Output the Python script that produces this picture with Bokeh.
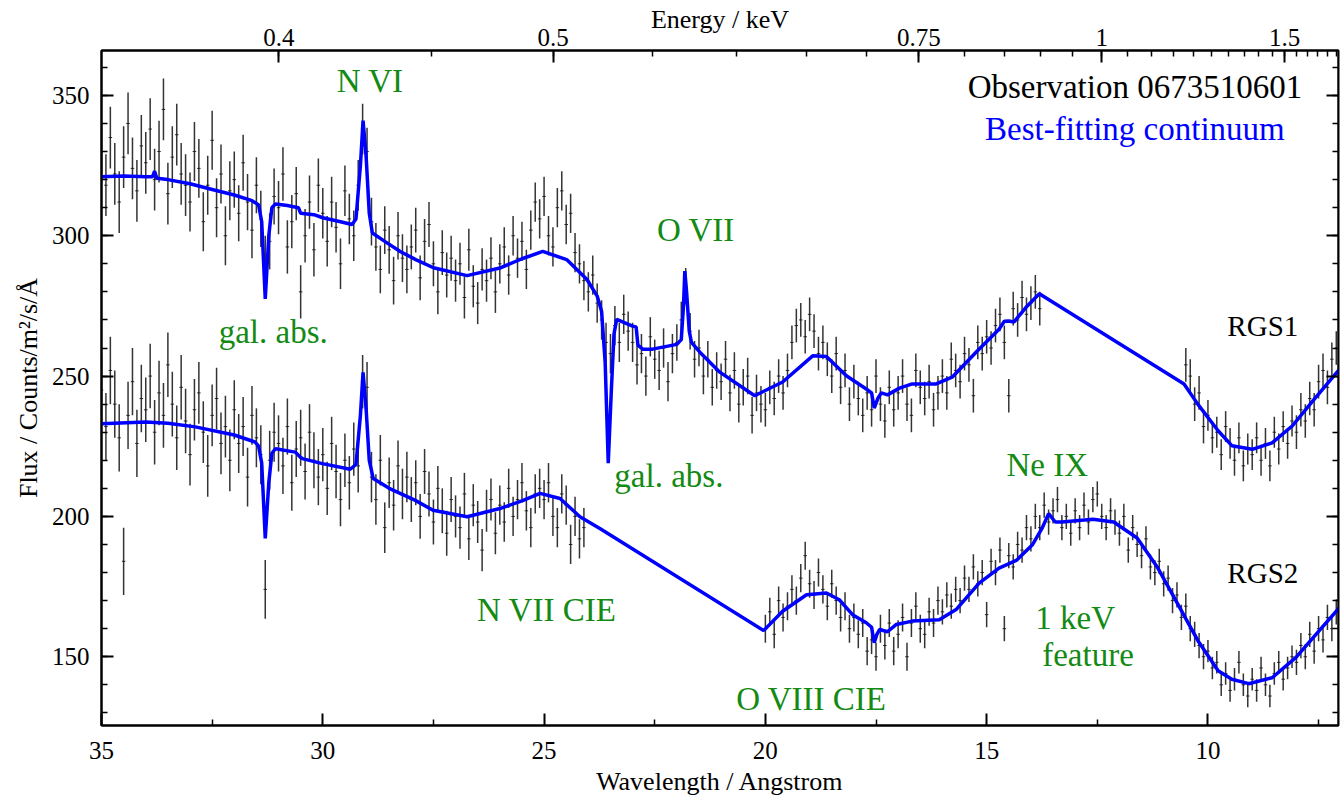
import numpy as np
from bokeh.plotting import figure
from bokeh.models import (Range1d, LinearAxis, FixedTicker, ColumnDataSource, Label,
                          CustomLabelingPolicy)
from bokeh.embed import file_html
from bokeh.resources import INLINE

FONT = "Liberation Serif"
GREEN = "#138a13"
HC = 12.398  # keV * Angstrom

# ---------------- data: RGS1 (flux per 0.1 A bin) ----------------
rgs1_a_start = 35.0   # 35.0 -> 13.8
rgs1_a_flux = [
    330, 318, 335, 322, 312, 328, 340, 324, 316, 332,
    326, 338, 320, 330, 345, 315, 328, 336, 322, 318,
    312, 330, 324, 305, 318, 334, 310, 322, 300, 316,
    320, 308, 326, 312, 302, 318, 306, 290, 298, 314,
    310, 322, 296, 305, 315, 280, 300, 312, 295, 318,
    308, 298, 312, 303, 290, 316, 306, 300, 318, 338,
    330, 305, 296, 288, 302, 295, 284, 300, 292, 288,
    296, 302, 285, 298, 304, 290, 280, 294, 286, 292,
    284, 290, 278, 295, 282, 276, 288, 284, 292, 280,
    290, 296, 286, 300, 292, 298, 288, 302, 312, 306,
    314, 300, 296, 310, 316, 304, 308, 294, 290, 284,
    280, 286, 276, 270, 262, 258, 268, 262, 272, 266,
    262, 254, 258, 250, 264, 256, 252, 260, 248, 258,
    262, 270, 282, 266, 256, 260, 250, 256, 246, 252,
    248, 256, 244, 252, 240, 246, 250, 236, 244, 240,
    238, 246, 242, 250, 244, 252, 262, 268, 270, 264,
    272, 266, 258, 262, 256, 250, 258, 246, 252, 240,
    248, 242, 236, 244, 238, 250, 240, 234, 246, 238,
    244, 250, 240, 236, 252, 246, 242, 248, 238, 244,
    250, 244, 256, 252, 248, 258, 254, 243, 262, 258,
    264, 260, 268, 272, 262, 243, 274, 270, 278, 272,
    276, 280, 274,
]
rgs1_a_err = [11, 11, 10.5, 10, 9.5, 9, 8.5, 8, 7.5, 7, 7, 7, 7, 6.5, 6.5, 6, 6, 6, 6, 6, 6, 6]
rgs1_a_groups = [10] * 21 + [3]

rgs1_b_start = 10.5   # 10.5 -> 7.1
rgs1_b_flux = [
    254, 250, 240, 244, 232,
    236, 228, 230, 222, 232, 226, 220, 228, 218, 224,
    222, 228, 220, 226, 218, 230, 224, 232, 226, 234,
    230, 238, 234, 242, 238, 248, 252, 246, 256, 260,
]
rgs1_b_err = [6, 5.5, 5.5, 6]
rgs1_b_groups = [5, 10, 10, 10]

# ---------------- data: RGS2 ----------------
rgs2_a_start = 35.0   # 35.0 -> 24.1
rgs2_a_flux = [
    245, 232, 252, 240, 228, 184, 236, 248, 226, 242,
    238, 250, 230, 244, 236, 254, 240, 228, 246, 234,
    222, 238, 244, 230, 218, 236, 242, 226, 232, 220,
    238, 226, 232, 214, 236, 228, 222, 174, 220, 230,
    226, 218, 232, 212, 224, 228, 216, 230, 220, 214,
    222, 210, 226, 216, 206, 220, 212, 224, 218, 248,
    246, 214, 206, 220, 196, 212, 204, 218, 208, 214,
    206, 212, 200, 216, 208, 198, 210, 202, 194, 206,
    200, 196, 208, 192, 204, 198, 188, 202, 206, 194,
    204, 198, 210, 200, 206, 212, 202, 196, 208, 210,
    206, 212, 200, 196, 208, 204, 190, 200, 192, 196,
]
rgs2_a_err = [12, 11.5, 11, 10.5, 10, 9.5, 9, 8, 7.5, 7, 7]
rgs2_a_groups = [10] * 11

rgs2_b_start = 20.0   # 20.0 -> 7.1
rgs2_b_flux = [
    160, 166, 158, 170, 164, 168, 174, 170, 178, 186,
    176, 172, 180, 174, 168, 176, 170, 164, 168, 160,
    164, 158, 162, 152, 156, 150, 160, 154, 162, 152,
    158, 164, 150, 162, 168, 160, 158, 166, 162, 170,
    166, 172, 168, 174, 170, 178, 174, 182, 176, 180,
    165, 184, 180, 188, 160, 186, 182, 190, 188, 196,
    192, 200, 196, 204, 198, 202, 206, 196, 200, 194,
    202, 196, 204, 198, 206, 208, 200, 196, 202, 198,
    194, 200, 188, 196, 190, 186, 192, 182, 180, 184,
    176, 178, 170, 172, 164, 168, 160, 158, 154, 150,
    152, 146, 148, 140, 144, 138, 142, 148, 140, 136,
    142, 138, 146, 140, 136, 144, 148, 142, 146, 150,
    148, 154, 150, 158, 152, 160, 156, 164, 160, 166,
]
rgs2_b_err = [5, 5, 5, 5, 4.5, 4.5, 4.5, 4.5, 4.5, 4.5, 4, 4, 4.5]
rgs2_b_groups = [10] * 13

BIN = 0.1

# ---------------- best-fitting continuum models ----------------
m1_lam = [35.0, 34.5, 34.0, 33.85, 33.8, 33.75, 33.5, 33.0, 32.5, 32.0,
          31.6, 31.45, 31.38, 31.3, 31.22, 31.15, 31.07, 30.8, 30.55, 30.5,
          30.2, 30.0, 29.6, 29.34, 29.25, 29.15, 29.09, 29.02, 28.95, 28.88,
          28.6, 28.25, 27.9, 27.5, 26.74, 26.0, 25.5, 25.03, 24.49, 24.03,
          23.8, 23.7, 23.62, 23.55, 23.48, 23.42, 23.36, 23.0, 22.92, 22.88,
          22.77, 22.55, 22.0, 21.9, 21.85, 21.82, 21.78, 21.72, 21.67, 21.48,
          21.03, 20.24, 19.61, 18.93, 18.62, 18.17, 17.72, 17.6, 17.54, 17.46,
          17.38, 17.24, 16.97, 16.68, 16.14, 15.78, 15.24, 14.72, 14.6, 14.5,
          14.38, 14.11, 13.81, 10.54, 10.23, 9.77, 9.46, 9.0, 8.55, 8.09,
          7.63, 7.02]
m1_flux = [321, 321.3, 321, 321, 323, 320.5, 320, 318.5, 316.5, 314.5,
           312.5, 311, 305, 277.5, 300, 310, 311.3, 310.8, 310, 308,
           307.5, 306.4, 305, 304, 306, 325, 341, 328, 308, 301,
           298, 294.4, 291.5, 288.6, 285.8, 288.5, 291.8, 294.4, 291.5, 284.4,
           278.5, 273, 255, 219, 245, 265, 270.2, 267.8, 267.5, 261,
           259.6, 259.6, 261.3, 263, 275, 287.4, 280, 266, 262, 258.5,
           251.4, 243, 247.9, 257.2, 257, 250.1, 245.4, 244, 238.6, 242,
           244, 243.3, 245.7, 247.2, 247.2, 249.6, 258.5, 266.7, 269.5, 269.6,
           269.3, 274.5, 279.3, 247.2, 240, 230.5, 225.2, 223.9, 226.2, 232.3,
           241.2, 252.6]

m2_lam = [35.0, 34.0, 33.5, 32.88, 32.0, 31.53, 31.45, 31.38, 31.3, 31.22,
          31.15, 31.07, 30.62, 30.5, 30.46, 30.01, 29.38, 29.25, 29.15, 29.09,
          29.02, 28.95, 28.86, 28.5, 27.92, 27.51, 26.74, 26.0, 25.5, 25.09,
          24.64, 24.19, 23.74, 20.04, 19.61, 19.07, 18.62, 18.33, 18.03, 17.72,
          17.6, 17.54, 17.48, 17.42, 17.24, 17.04, 16.68, 16.07, 15.69, 15.17,
          14.72, 14.33, 13.97, 13.75, 13.6, 13.45, 13.3, 12.6, 12.13, 11.6,
          11.15, 10.69, 10.23, 9.77, 9.46, 9.08, 8.55, 8.01, 7.48, 7.02]
m2_flux = [233, 233.6, 233.2, 231.9, 229, 226.5, 225, 219, 192.2, 212,
           222.5, 224.1, 222.9, 221, 220.6, 218.8, 216.8, 218.5, 236, 251.3,
           238, 220, 213.5, 210, 205.8, 202.2, 199.9, 202.8, 205.5, 208.2,
           206.4, 199.9, 195.7, 159.3, 166.2, 172.1, 172.7, 170.3, 165, 162.1,
           160.5, 155, 158, 159.7, 158.9, 161.5, 162.7, 163.2, 166.8, 176.2,
           181.6, 184.3, 189.8, 195.7, 201, 198, 198, 199, 198, 192.3,
           182.1, 169, 155.8, 145, 142, 140.4, 142.5, 149.8, 159.4, 167.7]

# ---------------- axis tick values ----------------
wl_major = [35, 30, 25, 20, 15, 10]
wl_minor = [32.5, 27.5, 22.5, 17.5, 12.5, 7.5]
flux_major = [150, 200, 250, 300, 350]
flux_minor = list(range(130, 370, 10))
en_major = [0.4, 0.5, 0.75, 1.0, 1.5]
en_major_labels = ["0.4", "0.5", "0.75", "1", "1.5"]
en_minor = [0.4, 0.45, 0.5, 0.55, 0.6, 0.65, 0.7, 0.75, 0.8, 0.85, 0.9, 0.95, 1.0,
            1.05, 1.1, 1.15, 1.2, 1.25, 1.3, 1.35, 1.4, 1.45, 1.5, 1.55, 1.6, 1.65, 1.7, 1.75]

X_START, X_END = 35.0, 7.05
Y_START, Y_END = 125.5, 366.0


def spectrum_source(start, flux, errs, groups):
    lam = np.array([start - BIN * i for i in range(len(flux))])
    f = np.array(flux, dtype=float)
    e = np.repeat(np.array(errs, dtype=float), groups)
    return ColumnDataSource(dict(x=lam, y=f, lo=f - e, hi=f + e,
                                 xl=lam + BIN * 0.4, xr=lam - BIN * 0.4))


p = figure(width=1343, height=798, output_backend="svg", toolbar_location=None,
           x_range=Range1d(X_START, X_END), y_range=Range1d(Y_START, Y_END),
           min_border_left=101, min_border_right=5, min_border_top=50, min_border_bottom=70)
p.background_fill_color = "white"
p.border_fill_color = "white"
p.xgrid.visible = False
p.ygrid.visible = False
p.outline_line_color = "black"
p.outline_line_width = 2


def style_axis(ax, size="25px"):
    ax.axis_line_width = 2
    ax.axis_line_color = "black"
    ax.major_tick_in = 12
    ax.major_tick_out = 0
    ax.minor_tick_in = 6
    ax.minor_tick_out = 0
    ax.major_tick_line_width = 2
    ax.minor_tick_line_width = 1.5
    ax.major_label_text_font = FONT
    ax.major_label_text_font_size = size
    ax.major_label_text_color = "black"
    ax.axis_label_text_font = FONT
    ax.axis_label_text_font_size = "26px"
    ax.axis_label_text_font_style = "normal"
    ax.axis_label_text_color = "black"


# bottom axis
bx = p.xaxis[0]
bx.ticker = FixedTicker(ticks=wl_major, minor_ticks=wl_minor)
bx.axis_label = "Wavelength / Angstrom"
style_axis(bx)
bx.major_label_standoff = 16
bx.axis_label_standoff = 5

# left axis
ly = p.yaxis[0]
ly.ticker = FixedTicker(ticks=flux_major, minor_ticks=flux_minor)
ly.axis_label = "Flux / Counts/m²/s/Å"
style_axis(ly)
ly.major_label_standoff = 12
ly.axis_label_standoff = 6

# right axis (ticks only, drawn on the frame edge)
ry = LinearAxis(ticker=FixedTicker(ticks=flux_major, minor_ticks=flux_minor),
                fixed_location=X_END,
                major_label_policy=CustomLabelingPolicy(code="""
                    for (let i = 0; i < indices.size; i++) { indices.unset(i) }
                    return indices
                """))
style_axis(ry)
p.add_layout(ry, "right")

# top axis: energy
t_major = [round(HC / e, 4) for e in en_major]
t_minor = [round(HC / e, 4) for e in en_minor]
tx = LinearAxis(ticker=FixedTicker(ticks=t_major, minor_ticks=t_minor),
                major_label_overrides={t: lab for t, lab in zip(t_major, en_major_labels)})
style_axis(tx)
tx.axis_label = "Energy / keV"
tx.major_label_standoff = 5
tx.axis_label_standoff = -8
p.add_layout(tx, "above")

# spectra with error bars
for start, flux, errs, groups in [
    (rgs1_a_start, rgs1_a_flux, rgs1_a_err, rgs1_a_groups),
    (rgs1_b_start, rgs1_b_flux, rgs1_b_err, rgs1_b_groups),
    (rgs2_a_start, rgs2_a_flux, rgs2_a_err, rgs2_a_groups),
    (rgs2_b_start, rgs2_b_flux, rgs2_b_err, rgs2_b_groups),
]:
    src = spectrum_source(start, flux, errs, groups)
    p.segment(x0="x", y0="lo", x1="x", y1="hi", source=src,
              line_color="#111111", line_width=1.5, line_alpha=0.85)
    p.segment(x0="xl", y0="y", x1="xr", y1="y", source=src,
              line_color="#111111", line_width=1, line_alpha=0.85)

# continuum models
p.line(m1_lam, m1_flux, line_color="#0000ff", line_width=3.5)
p.line(m2_lam, m2_flux, line_color="#0000ff", line_width=3.5)


def add_text(x, y, text, color, size="33px", align="center"):
    p.add_layout(Label(x=x, y=y, text=text, text_color=color, text_font=FONT,
                       text_font_size=size, text_align=align, text_baseline="middle"))


add_text(28.93, 355.3, "N VI", GREEN)
add_text(31.12, 265.6, "gal. abs.", GREEN)
add_text(21.57, 302.1, "O VII", GREEN)
add_text(22.18, 214.5, "gal. abs.", GREEN)
add_text(24.94, 166.7, "N VII CIE", GREEN)
add_text(18.96, 134.8, "O VIII CIE", GREEN)
add_text(13.63, 218.4, "Ne IX", GREEN)
add_text(13.0, 163.8, "1 keV", GREEN)
add_text(12.71, 150.7, "feature", GREEN)
add_text(8.76, 267.7, "RGS1", "black", size="29px")
add_text(8.76, 179.8, "RGS2", "black", size="29px")
add_text(11.65, 353.0, "Observation 0673510601", "black")
add_text(11.65, 338.0, "Best-fitting continuum", "#0000ff")

open("out.html", "w").write(file_html(p, INLINE))
